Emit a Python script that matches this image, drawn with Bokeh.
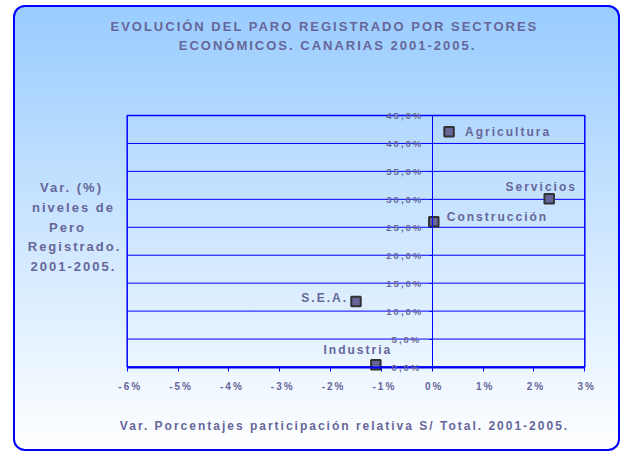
from bokeh.plotting import figure
from bokeh.models import Range1d, Label
from bokeh.embed import file_html
from bokeh.resources import INLINE

# ---- data ----
sectors = ["Agricultura", "Construcción", "Servicios", "S.E.A.", "Industria"]
var_participacion = [0.33, 0.03, 2.30, -1.50, -1.11]   # x, %
var_paro = [42.1, 26.0, 30.1, 11.7, 0.4]                # y, %
x_ticks = [-6, -5, -4, -3, -2, -1, 0, 1, 2, 3]
x_tick_labels = ["-6%", "-5%", "-4%", "-3%", "-2%", "-1%", "0%", "1%", "2%", "3%"]
y_ticks = [0, 5, 10, 15, 20, 25, 30, 35, 40, 45]
y_tick_labels = ["0,0%", "5,0%", "10,0%", "15,0%", "20,0%", "25,0%",
                 "30,0%", "35,0%", "40,0%", "45,0%"]
title_lines = ["EVOLUCIÓN DEL PARO REGISTRADO POR SECTORES",
               "ECONÓMICOS. CANARIAS 2001-2005."]
y_title = "Var. (%)\nniveles de\nPero\nRegistrado.\n2001-2005."
x_title = "Var. Porcentajes participación relativa S/ Total. 2001-2005."

# ---- styles / geometry (pixels inside the figure) ----
TXT = "#666699"
BLUE = "#0000FF"
FONT = "Liberation Sans"
W, H = 607, 446
FL, FR, FT, FB = 113.7, 571.3, 110.0, 361.5   # plot-area box in figure pixels
X0, X1 = x_ticks[0], x_ticks[-1]
Y0, Y1 = y_ticks[0], y_ticks[-1]


def x_of(px):
    return X0 + (px - FL) / (FR - FL) * (X1 - X0)


def y_of(py):
    return Y0 + (FB - py) / (FB - FT) * (Y1 - Y0)


label_style = {
    "Agricultura": (16, 0, "left"),
    "Construcción": (13, 5, "left"),
    "Servicios": (-17, 12, "center"),
    "S.E.A.": (-20, 4, "right"),
    "Industria": (-27, 15, "center"),
}

p = figure(width=W, height=H, x_range=Range1d(x_of(0), x_of(W)),
           y_range=Range1d(y_of(H), y_of(0)),
           output_backend="svg", toolbar_location=None,
           min_border_left=0, min_border_right=0,
           min_border_top=0, min_border_bottom=0)
p.styles = {
    "margin": "5px 0 0 13px",
    "background": "linear-gradient(to bottom, #99CCFF 0%, #FFFFFF 100%)",
    "border-radius": "12px",
    "box-shadow": "inset 0 0 0 2px #0000FF",
    "letter-spacing": "2px",
}
p.background_fill_alpha = 0
p.border_fill_alpha = 0
p.outline_line_color = None
p.xgrid.visible = False
p.ygrid.visible = False

# horizontal grid lines and plot-area border, from the tick values
p.segment(x0=[X0] * len(y_ticks), x1=[X1] * len(y_ticks), y0=y_ticks, y1=y_ticks,
          line_color=BLUE, line_width=1)
p.quad(left=[X0], right=[X1], bottom=[Y0], top=[Y1], fill_color=None,
       line_color=BLUE, line_width=1.5)

xa = p.xaxis[0]
xa.fixed_location = 0
xa.bounds = (X0, X1)
xa.ticker = x_ticks
xa.major_label_overrides = dict(zip(x_ticks, x_tick_labels))
xa.axis_line_color = BLUE
xa.axis_line_width = 2
xa.major_tick_line_color = BLUE
xa.major_tick_out = 4
xa.major_tick_in = 0
xa.minor_tick_line_color = None
xa.major_label_text_font = FONT
xa.major_label_text_font_style = "bold"
xa.major_label_text_font_size = "10px"
xa.major_label_text_color = TXT
xa.major_label_standoff = 10

ya = p.yaxis[0]
ya.fixed_location = 0
ya.bounds = (Y0, Y1)
ya.ticker = y_ticks
ya.major_label_overrides = dict(zip(y_ticks, y_tick_labels))
ya.axis_line_color = BLUE
ya.axis_line_width = 1
ya.major_tick_line_color = BLUE
ya.major_tick_out = 3
ya.major_tick_in = 0
ya.minor_tick_line_color = None
ya.major_label_text_font = FONT
ya.major_label_text_font_style = "bold"
ya.major_label_text_font_size = "9.5px"
ya.major_label_text_color = TXT
ya.major_label_standoff = 16

p.scatter(x=var_participacion, y=var_paro, marker="square", size=9.5,
          fill_color="#666699", line_color="#333333", line_width=2)

for name, xv, yv in zip(sectors, var_participacion, var_paro):
    dx, dy, al = label_style[name]
    p.add_layout(Label(x=xv, y=yv, text=name, x_offset=dx, y_offset=dy,
                       text_align=al, text_baseline="middle",
                       text_font=FONT, text_font_style="bold",
                       text_font_size="12px", text_color=TXT))

common = dict(text_font=FONT, text_font_style="bold", text_color=TXT,
              text_align="center", text_baseline="middle")
# positions of titles (figure pixels)
p.add_layout(Label(x=x_of(269), y=y_of(21), text=title_lines[0],
                   text_font_size="13px", **common))
p.add_layout(Label(x=x_of(283), y=y_of(40), text=title_lines[1],
                   text_font_size="13px", **common))
p.add_layout(Label(x=x_of(50), y=y_of(221.7), text=y_title, text_font_size="13px",
                   text_line_height=1.32, **common))
p.add_layout(Label(x=x_of(271), y=y_of(420), text=x_title,
                   text_font_size="12px", **common))

open("out.html", "w").write(file_html(p, INLINE))
